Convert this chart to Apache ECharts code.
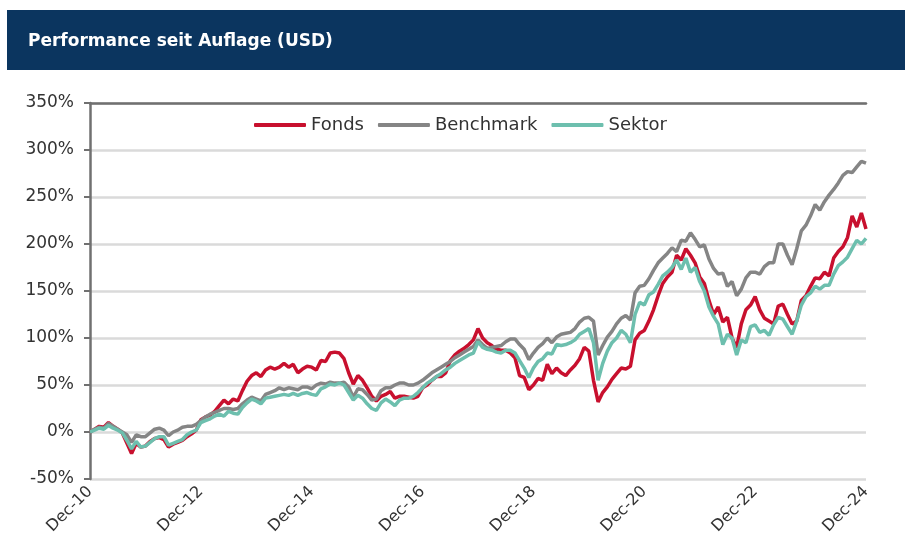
<!DOCTYPE html>
<html>
<head>
<meta charset="utf-8">
<script src="https://cdn.jsdelivr.net/npm/echarts@6/dist/echarts.min.js"></script>
<style>
  html, body { margin: 0; padding: 0; background: #fff; }
  #chart { width: 905px; height: 544px; }
</style>
</head>
<body>
<div id="chart"></div>
<script>
// Monatswerte Dez-10 bis Dez-24, kumulierte Performance in %
var fonds = [
    0, 3, 6, 5, 10, 6, 3, -1, -12, -23, -12, -16,
    -15, -10, -7, -6, -8, -16, -13, -11, -9, -5, -2, 2,
    13, 16, 18, 22, 28, 34, 30, 35, 33, 44, 54, 60,
    63, 59, 66, 69, 67, 69, 73, 69, 72, 63, 67, 70,
    69, 66, 76, 75, 84, 85, 84, 78, 63, 51, 60, 55,
    47, 38, 33, 38, 40, 43, 36, 38, 38, 37, 36, 38,
    47, 50, 55, 59, 59, 63, 76, 82, 86, 89, 93, 98,
    110, 100, 95, 92, 88, 87, 87, 84, 79, 60, 58, 45,
    50, 57, 55, 72, 62, 68, 63, 60, 66, 71, 78, 90,
    86, 55, 32, 42, 48, 56, 62, 68, 67, 70, 98, 105,
    108, 118, 130, 145, 158, 165, 170, 188, 183, 195, 188, 180,
    165, 158, 140, 125, 133, 117, 122, 100, 90, 115, 130, 135,
    144, 130, 121, 118, 115, 134, 136, 125, 115, 118, 140, 145,
    155, 164, 163, 170, 166, 185, 192, 197, 207, 230, 218, 233,
    216
];
var benchmark = [
    0, 3, 5, 4, 9, 6, 3, 0, -3, -11, -3, -5,
    -5, -1, 3, 4, 2, -4, 0, 2, 5, 6, 6, 8,
    12, 16, 19, 21, 23, 25, 25, 24, 25, 30, 34, 37,
    35, 33, 40, 42, 44, 47, 45, 47, 46, 45, 48, 48,
    46, 50, 52, 51, 53, 52, 52, 53, 48, 37, 46, 45,
    40, 34, 35, 44, 47, 47, 50, 52, 52, 50, 50, 52,
    55, 59, 63, 66, 69, 72, 75, 79, 82, 85, 88, 91,
    98, 93, 89, 90, 91, 92, 96, 99, 99, 93, 88, 77,
    84, 90, 94, 100, 95, 101, 104, 105, 106, 110, 117, 121,
    122, 118, 82, 92, 101, 107, 115, 121, 124, 119, 148, 155,
    156, 163, 172, 180, 185, 190, 196, 192, 204, 203, 212, 205,
    197, 199, 184, 174, 168, 169, 155, 160, 145, 152, 164, 170,
    170, 168, 176, 180, 180, 200, 200, 188, 178, 195, 214, 220,
    230, 242, 236, 245, 252, 258, 265, 273, 277, 276, 282, 288,
    286
];
var sektor = [
    0, 2, 4, 3, 7, 4, 2, -1, -9, -18, -10, -16,
    -15, -11, -7, -5, -5, -14, -12, -10, -8, -3, 0, 2,
    10, 12, 14, 17, 19, 17, 22, 20, 19, 26, 31, 35,
    33, 30, 36, 37, 38, 39, 40, 39, 41, 39, 41, 42,
    40, 39, 46, 48, 51, 50, 52, 50, 42, 34, 39, 36,
    30, 25, 23, 31, 35, 32, 28, 34, 36, 36, 38, 42,
    47, 52, 55, 59, 62, 66, 69, 73, 76, 79, 82, 84,
    96, 90, 88, 87, 85, 84, 87, 87, 84, 76, 68, 58,
    68, 75, 78, 84, 83, 93, 92, 93, 95, 98, 104, 107,
    110, 95, 55, 73, 86, 95, 100, 108, 104, 95, 125, 138,
    135, 146, 149, 157, 166, 170, 175, 183, 173, 185, 170, 175,
    160, 150, 133, 123, 115, 93, 104, 100, 82, 98, 95, 112,
    114, 106, 108, 103, 114, 122, 120, 112, 104, 118, 135, 144,
    148, 155, 152, 156, 156, 168, 177, 181, 186, 195, 204, 200,
    206
];
var monate = ['Jan', 'Feb', 'Mar', 'Apr', 'May', 'Jun', 'Jul', 'Aug', 'Sep', 'Oct', 'Nov', 'Dec'];
var yTicks = [-50, 0, 50, 100, 150, 200, 250, 300, 350];

// Kategorien: Dec-10 ... Dec-24
var kategorien = [];
for (var i = 0; i < fonds.length; i++) {
    var m = (11 + i) % 12;
    var j = 10 + Math.floor((11 + i) / 12);
    kategorien.push(monate[m] + '-' + (j < 10 ? '0' + j : j));
}

var schrift = "'DejaVu Sans', sans-serif";

var chart = echarts.init(document.getElementById('chart'));

var option = {
    animation: false,
    backgroundColor: '#fff',
    color: ['#c8102e', '#858585', '#6dbfae'],
    graphic: [
        {
            type: 'rect',
            left: 7, top: 10,
            shape: { width: 898, height: 60 },
            style: { fill: '#0b355f' },
            z: 0
        },
        {
            type: 'text',
            left: 28, top: 33,
            style: {
                text: 'Performance seit Auflage (USD)',
                fill: '#fff',
                font: "bold 17px 'DejaVu Sans', sans-serif"
            },
            z: 1
        }
    ],
    legend: {
        left: 249,
        top: 111,
        itemWidth: 52,
        itemHeight: 4,
        itemGap: 14,
        icon: 'roundRect',
        textStyle: { fontFamily: schrift, fontSize: 18, color: '#333' },
        data: ['Fonds', 'Benchmark', 'Sektor']
    },
    grid: { left: 90, right: 39, top: 103, bottom: 65 },
    xAxis: [
        {
            type: 'category',
            data: kategorien,
            boundaryGap: false,
            axisLine: { show: false },
            axisTick: { show: false },
            axisLabel: {
                interval: 23,
                rotate: 45,
                margin: 10,
                fontFamily: schrift,
                fontSize: 16,
                color: '#333'
            },
            splitLine: { show: false }
        },
        {
            type: 'category',
            data: kategorien,
            boundaryGap: false,
            axisLine: { onZero: true, lineStyle: { color: '#707070', width: 2.5 } },
            axisTick: { show: false },
            axisLabel: { show: false },
            splitLine: { show: false }
        }
    ],
    yAxis: {
        type: 'value',
        min: yTicks[0],
        max: yTicks[yTicks.length - 1],
        interval: 50,
        axisLine: { show: true, lineStyle: { color: '#707070', width: 2.5 } },
        axisTick: { show: true, length: 6, lineStyle: { color: '#707070', width: 2 } },
        axisLabel: {
            formatter: '{value}%',
            margin: 16,
            fontFamily: schrift,
            fontSize: 17,
            color: '#333'
        },
        splitLine: { lineStyle: { color: '#dadada', width: 2.5 } }
    },
    series: [
        {
            name: 'Fonds', type: 'line', data: fonds,
            showSymbol: false, lineStyle: { width: 3.5 }
        },
        {
            name: 'Benchmark', type: 'line', data: benchmark,
            showSymbol: false, lineStyle: { width: 3.5 }
        },
        {
            name: 'Sektor', type: 'line', data: sektor,
            showSymbol: false, lineStyle: { width: 3.5 }
        }
    ]
};

chart.setOption(option);
</script>
</body>
</html>
